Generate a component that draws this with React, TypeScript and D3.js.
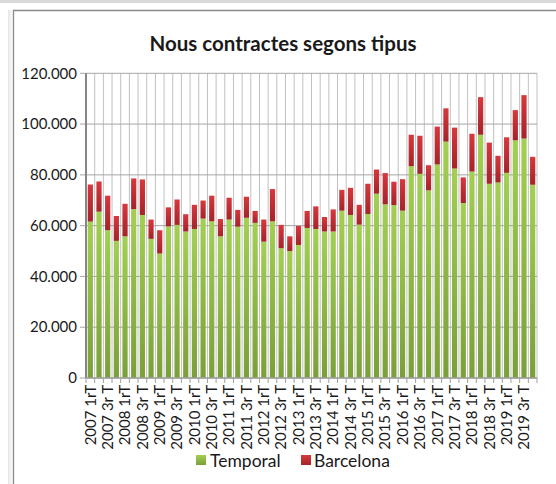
import React from "react";
import * as d3 from "d3";

const categories: string[] = [
  "2007 1rT", "2007 2n T", "2007 3r T", "2007 4t T",
  "2008 1rT", "2008 2n T", "2008 3r T", "2008 4t T",
  "2009 1rT", "2009 2n T", "2009 3r T", "2009 4t T",
  "2010 1rT", "2010 2n T", "2010 3r T", "2010 4t T",
  "2011 1rT", "2011 2n T", "2011 3r T", "2011 4t T",
  "2012 1rT", "2012 2n T", "2012 3r T", "2012 4t T",
  "2013 1rT", "2013 2n T", "2013 3r T", "2013 4t T",
  "2014 1rT", "2014 2n T", "2014 3r T", "2014 4t T",
  "2015 1rT", "2015 2n T", "2015 3r T", "2015 4t T",
  "2016 1rT", "2016 2n T", "2016 3r T", "2016 4t T",
  "2017 1rT", "2017 2n T", "2017 3r T", "2017 4t T",
  "2018 1rT", "2018 2n T", "2018 3r T", "2018 4t T",
  "2019 1rT", "2019 2n T", "2019 3r T", "2019 4t T",
];

const temporal: number[] = [
  61600, 65500, 58200, 54000, 55800, 66500, 64200, 54800,
  49000, 59700, 60300, 57700, 58700, 62800, 61700, 55800,
  62400, 59600, 63100, 61100, 53700, 61700, 51100, 50000,
  52400, 59100, 58700, 57700, 57700, 65900, 64200, 60400,
  64600, 72600, 68400, 68100, 65900, 83400, 80400, 73900,
  84100, 93100, 82500, 68900, 81300, 95800, 76500, 77000,
  80800, 93600, 94300, 76100,
];

const barcelona: number[] = [
  14600, 11900, 13600, 9800, 12800, 12100, 14000, 7600,
  9200, 7500, 10000, 6800, 9500, 7100, 10100, 6800,
  8600, 6600, 8300, 4700, 8700, 12700, 9200, 5800,
  7500, 6700, 8900, 5700, 8700, 8200, 10700, 7800,
  11900, 9500, 12300, 9200, 12400, 12400, 15000, 9900,
  14900, 13100, 16100, 10100, 14900, 14800, 16200, 10500,
  14000, 11900, 17100, 11000,
];

const yTicks: number[] = [0, 20000, 40000, 60000, 80000, 100000, 120000];
const seriesNames: string[] = ["Temporal", "Barcelona"];

const FONT = "Lato, 'Open Sans', sans-serif";

export default function App() {
  const W = 556, H = 484;
  const left = 86, right = 537, top = 73.3, bottom = 378;

  const x = d3.scaleBand<string>().domain(categories).range([left, right]).paddingInner(0.4).paddingOuter(0.2);
  const y = d3.scaleLinear().domain([0, 120000]).range([bottom, top]);
  const step = x.step();
  const fmt = d3.formatLocale({ decimal: ",", thousands: ".", grouping: [3], currency: ["", "€"] }).format(",.0f");

  const rows = categories.map((c, i) => ({ cat: c, Temporal: temporal[i], Barcelona: barcelona[i] }));
  const stack = d3.stack<any>().keys(seriesNames)(rows);
  const fills = ["url(#gGreen)", "url(#gRed)"];

  const bounds = d3.range(categories.length + 1).map((i) => left + i * step);

  return (
    <svg width={W} height={H} style={{ position: "absolute", left: 0, top: 0, background: "#fff" }}>
      <defs>
        <linearGradient id="gGreen" x1="0" y1="0" x2="0" y2="1">
          <stop offset="0" stopColor="#a3d053" />
          <stop offset="1" stopColor="#7a9f38" />
        </linearGradient>
        <linearGradient id="gRed" x1="0" y1="0" x2="0" y2="1">
          <stop offset="0" stopColor="#d7383d" />
          <stop offset="1" stopColor="#a3242a" />
        </linearGradient>
        <linearGradient id="shadow" x1="0" y1="0" x2="1" y2="0">
          <stop offset="0" stopColor="#e6e6e6" />
          <stop offset="1" stopColor="#ffffff" />
        </linearGradient>
      </defs>
      <rect x={0} y={0} width={W} height={H} fill="#fff" />
      <rect x={0} y={0} width={W} height={3} fill="#d9d9d9" />
      <rect x={8} y={10} width={5} height={H} fill="url(#shadow)" />
      <path d={`M13.5,${H} V10.5 H${W}`} fill="none" stroke="#8a8a8a" strokeWidth={1.3} />

      <text x={283} y={51} textAnchor="middle" fontFamily={FONT} fontWeight="bold" fontSize={20.5} fill="#1a1a1a">
        Nous contractes segons tipus
      </text>

      {bounds.slice(1).map((bx, i) => (
        <line key={"v" + i} x1={bx} x2={bx} y1={top} y2={bottom} stroke="#c0c0c0" strokeWidth={1} />
      ))}
      {yTicks.map((t) => (
        <line key={"h" + t} x1={left - 6} x2={right} y1={y(t)} y2={y(t)} stroke="#a5a5a5" strokeWidth={1} />
      ))}

      {stack.map((s, si) => (
        <g key={s.key}>
          {s.map((d: any, i: number) => (
            <rect
              key={i}
              x={x(categories[i])!}
              width={x.bandwidth()}
              y={y(d[1])}
              height={y(d[0]) - y(d[1])}
              fill={fills[si]}
            />
          ))}
        </g>
      ))}

      <line x1={left} x2={left} y1={top} y2={bottom} stroke="#868686" strokeWidth={2} />
      <line x1={left} x2={right} y1={bottom} y2={bottom} stroke="#a0a0a0" strokeWidth={1.5} />
      {bounds.map((bx, i) => (
        <line key={"xt" + i} x1={bx} x2={bx} y1={bottom} y2={bottom + 5} stroke="#a0a0a0" strokeWidth={1} />
      ))}

      {yTicks.map((t) => (
        <text key={"yl" + t} x={77} y={y(t)} dy="0.35em" textAnchor="end" fontFamily={FONT} fontSize={15} fill="#1a1a1a">
          {fmt(t)}
        </text>
      ))}

      {categories.map((c, i) =>
        i % 2 === 0 ? (
          <text
            key={"xl" + i}
            transform={`translate(${x(c)! + x.bandwidth() / 2},${bottom + 7}) rotate(-90)`}
            dy="0.35em"
            textAnchor="end"
            fontFamily={FONT}
            fontSize={15}
            fill="#1a1a1a"
          >
            {c}
          </text>
        ) : null
      )}

      <rect x={196} y={455} width={10} height={10} fill="url(#gGreen)" />
      <text x={210} y={467} fontFamily={FONT} fontSize={17.5} fill="#1a1a1a">{seriesNames[0]}</text>
      <rect x={301} y={455} width={10} height={10} fill="url(#gRed)" />
      <text x={314} y={467} fontFamily={FONT} fontSize={17.5} fill="#1a1a1a">{seriesNames[1]}</text>
    </svg>
  );
}
